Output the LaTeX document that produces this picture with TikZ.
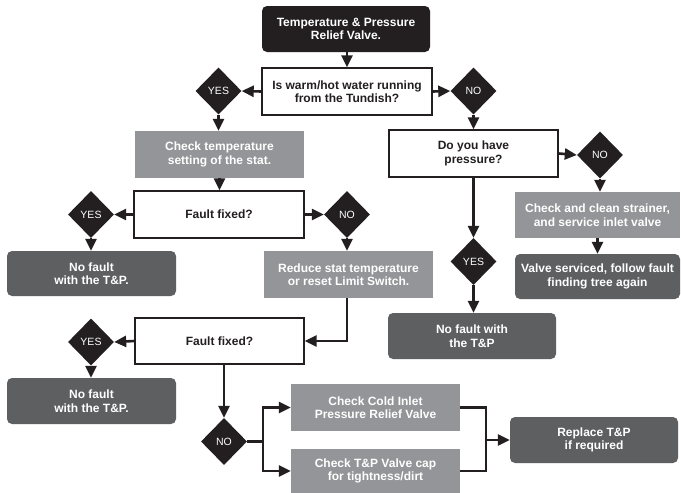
\documentclass[tikz,border=0pt]{standalone}
\usepackage{fontspec}
\setmainfont{Liberation Sans}
\usetikzlibrary{shapes.geometric,arrows.meta}
\definecolor{ink}{HTML}{231F20}
\definecolor{lgray}{HTML}{939598}
\definecolor{dgray}{HTML}{5E5F61}
\begin{document}
\begin{tikzpicture}[x=1pt,y=-1pt,
  basebox/.style={rectangle, inner sep=0pt, align=center,
    font=\fontsize{12}{13.5}\selectfont\bfseries},
  qbox/.style={basebox, draw=ink, line width=1.4pt, fill=white, text=ink},
  lbox/.style={basebox, fill=lgray, text=white},
  dkbox/.style={basebox, fill=dgray, text=white, rounded corners=5pt},
  topbox/.style={basebox, fill=ink, text=white, rounded corners=5pt},
  dmd/.style={diamond, fill=ink, text=white, inner sep=0pt,
    minimum width=46pt, minimum height=47pt,
    font=\fontsize{10.5}{12}\selectfont},
  conn/.style={draw=ink, line width=2.6pt, -{Triangle[length=12pt,width=11pt]}},
  plain/.style={draw=ink, line width=2.6pt}]
\useasboundingbox (0,0) rectangle (681,493);
\fill[white] (0,0) rectangle (681,493);

\node[topbox, minimum width=168pt, minimum height=46pt] (top) at (346,29) {Temperature \& Pressure\\Relief Valve.};
\node[qbox, minimum width=170pt, minimum height=47pt] (q1) at (347,91.5) {Is warm/hot water running\\from the Tundish?};
\node[dmd] (yes1) at (218.5,91) {YES};
\node[dmd] (no1) at (473.5,91) {NO};
\node[lbox, minimum width=169pt, minimum height=47pt] (chk) at (219.5,154.5) {Check temperature\\setting of the stat.};
\node[qbox, minimum width=169pt, minimum height=47pt] (press) at (473.5,153.5) {Do you have\\pressure?};
\node[dmd] (no3) at (600,155) {NO};
\node[lbox, minimum width=165pt, minimum height=46pt] (strain) at (597.5,215) {Check and clean strainer,\\and service inlet valve};
\node[dkbox, minimum width=165pt, minimum height=45pt] (serv) at (597.5,276.5) {Valve serviced, follow fault\\finding tree again};
\node[qbox, minimum width=170pt, minimum height=47pt] (ff1) at (219,214.5) {Fault fixed?};
\node[dmd] (yes2) at (91,214.5) {YES};
\node[dmd] (no2) at (347,214.5) {NO};
\node[dkbox, minimum width=169pt, minimum height=45pt] (nf1) at (91.5,273.5) {No fault\\with the T\&P.};
\node[lbox, minimum width=169pt, minimum height=47pt] (red) at (348.5,274.5) {Reduce stat temperature\\or reset Limit Switch.};
\node[dmd] (yes3) at (473.5,261.5) {YES};
\node[dkbox, minimum width=168pt, minimum height=46pt] (nfr) at (472,336) {No fault with\\the T\&P};
\node[qbox, minimum width=169pt, minimum height=46pt] (ff2) at (219.5,341) {Fault fixed?};
\node[dmd] (yes4) at (91,342) {YES};
\node[dkbox, minimum width=169pt, minimum height=46pt] (nf2) at (91.5,401) {No fault\\with the T\&P.};
\node[dmd] (no4) at (224,441.5) {NO};
\node[lbox, minimum width=169pt, minimum height=47pt] (cold) at (375.5,407.5) {Check Cold Inlet\\Pressure Relief Valve};
\node[lbox, minimum width=169pt, minimum height=44pt] (cap) at (375.5,471) {Check T\&P Valve cap\\for tightness/dirt};
\node[dkbox, minimum width=168pt, minimum height=46pt] (rep) at (594,440) {Replace T\&P\\if required};

\coordinate (br) at (263,441.5);
\coordinate (mr) at (486,440);

\draw[conn] (top.south -| q1) -- (q1.north);
\draw[conn] (q1.west) -- (yes1.east);
\draw[conn] (q1.east) -- (no1.west);
\draw[conn] (yes1.south) -- (yes1.south |- chk.north);
\draw[conn] (no1.south) -- (no1.south |- press.north);
\draw[conn] (chk.south) -- (chk.south |- ff1.north);
\draw[conn] (ff1.west) -- (yes2.east);
\draw[conn] (ff1.east) -- (no2.west);
\draw[conn] (yes2.south) -- (yes2.south |- nf1.north);
\draw[conn] (no2.south) -- (no2.south |- red.north);
\draw[conn] (press.east) -- (no3.west);
\draw[conn] (no3.south) -- (no3.south |- strain.north);
\draw[conn] (strain.south) -- (strain.south |- serv.north);
\draw[conn] (press.south) -- (yes3.north);
\draw[conn] (yes3.south) -- (yes3.south |- nfr.north);
\draw[conn] (red.south -| no2) |- (ff2.east);
\draw[conn] (ff2.west) -- (yes4.east);
\draw[conn] (yes4.south) -- (yes4.south |- nf2.north);
\draw[conn] (ff2.south -| no4) -- (no4.north);
\draw[plain] (no4.east) -- (br);
\draw[conn] (br) |- (cold.west);
\draw[conn] (br) |- (cap.west);
\draw[plain] (cold.east) -| (mr) |- (cap.east);
\draw[conn] (mr) -- (rep.west);
\end{tikzpicture}
\end{document}
